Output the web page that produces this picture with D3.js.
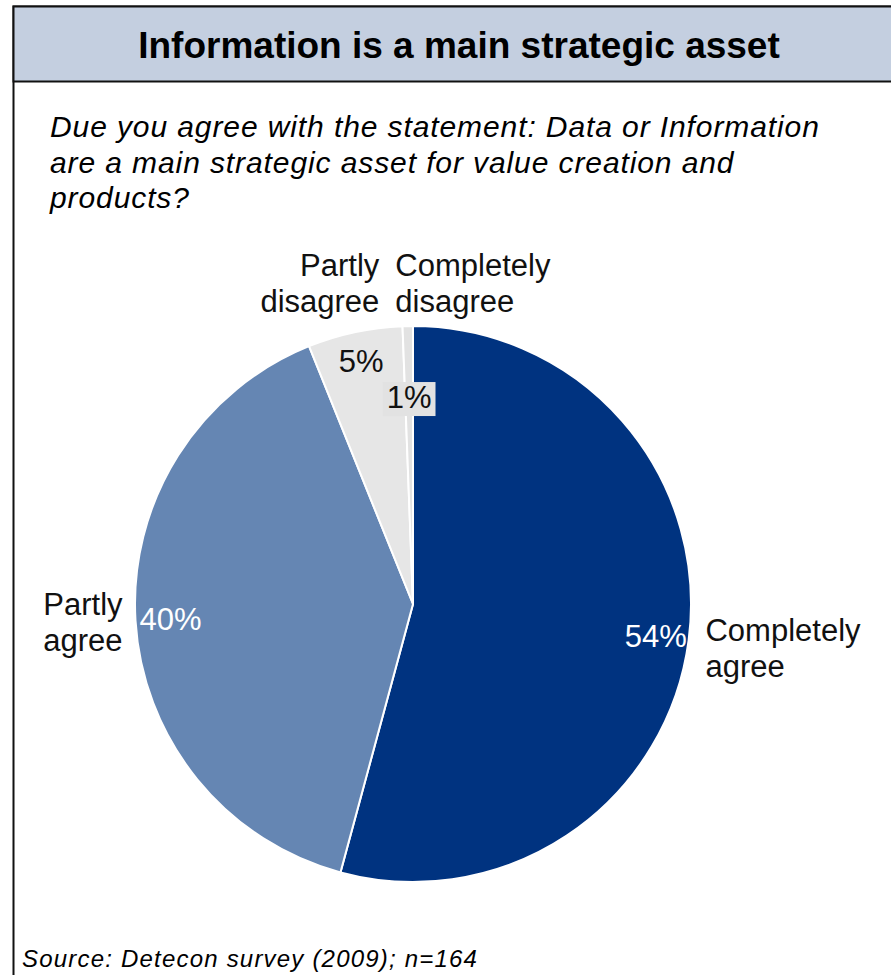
<!DOCTYPE html>
<html>
<head>
<meta charset="utf-8">
<script src="https://cdn.jsdelivr.net/npm/d3@7"></script>
<style>
  body { margin: 0; background: #fff; }
  text { font-family: "Liberation Sans", Arial, Helvetica, sans-serif; }
</style>
</head>
<body>
<div id="chart"></div>
<script>
var categories = ["Completely agree", "Partly agree", "Partly disagree", "Completely disagree"];
var shares = [54.2, 39.7, 5.5, 0.6];
var pctLabels = ["54%", "40%", "5%", "1%"];
var sliceColors = ["#003380", "#6586b3", "#e6e6e6", "#e2e2e2"];
var pctColors = ["#fff", "#fff", "#111", "#111"];

var titleText = "Information is a main strategic asset";
var questionLines = ["Due you agree with the statement: Data or Information",
                     "are a main strategic asset for value creation and",
                     "products?"];
var sourceText = "Source: Detecon survey (2009); n=164";

var width = 891, height = 975;
var cx = 413, cy = 604, radius = 278;

// label placement per slice (layout only)
var pctLayout = [{r: 245}, {r: 243}, {r: 248}, {r: 207, box: true}];
var catLayout = [
    {r: 292, anchor: "start", dx: 3, dy: -1},
    {r: 292, anchor: "end", dx: 1, dy: -6},
    {r: 300, anchor: "end", dx: 29, dy: -35},
    {r: 300, anchor: "start", dx: -12, dy: -28}
];

var svg = d3.select("#chart")
    .append("svg")
        .attr("width", width)
        .attr("height", height);

// frame + header
svg.append("rect")
    .attr("x", 13.5).attr("y", 6.5)
    .attr("width", width + 10).attr("height", height + 10)
    .attr("fill", "#fff")
    .attr("stroke", "#111")
    .attr("stroke-width", 2);

svg.append("rect")
    .attr("x", 13.5).attr("y", 6.5)
    .attr("width", width + 10).attr("height", 75)
    .attr("fill", "#c4cfe0")
    .attr("stroke", "#111")
    .attr("stroke-width", 2);

svg.append("text")
    .attr("x", 459)
    .attr("y", 58)
    .attr("text-anchor", "middle")
    .style("font-size", "37px")
    .style("font-weight", "bold")
    .text(titleText);

svg.append("g")
    .selectAll("text")
    .data(questionLines)
    .enter()
    .append("text")
        .attr("x", 50)
        .attr("y", function(d, i) { return 137 + i * 35.5; })
        .style("font-size", "30px")
        .style("font-style", "italic")
        .style("letter-spacing", "0.9px")
        .text(function(d) { return d; });

svg.append("text")
    .attr("x", 22)
    .attr("y", 967)
    .style("font-size", "24px")
    .style("font-style", "italic")
    .style("letter-spacing", "1.2px")
    .text(sourceText);

// pie
var pie = d3.pie().sort(null).value(function(d) { return d; });
var arcs = pie(shares);

var arc = d3.arc().innerRadius(0).outerRadius(radius);

var pieG = svg.append("g")
    .attr("transform", "translate(" + cx + "," + cy + ")");

pieG.selectAll(".slice")
    .data(arcs)
    .enter()
    .append("path")
        .attr("class", "slice")
        .attr("fill", function(d, i) { return sliceColors[i]; })
        .attr("stroke", "#fff")
        .attr("stroke-width", 2)
        .attr("d", arc);

function pointAt(d, r) {
    var a = (d.startAngle + d.endAngle) / 2;
    return [r * Math.sin(a), -r * Math.cos(a)];
}

// percentage labels
arcs.forEach(function(d, i) {
    var p = pointAt(d, pctLayout[i].r);
    var t = pieG.append("text")
        .attr("x", p[0])
        .attr("y", p[1] + 11)
        .attr("text-anchor", "middle")
        .attr("fill", pctColors[i])
        .style("font-size", "31px")
        .text(pctLabels[i]);
    if (pctLayout[i].box) {
        var bb = t.node().getBBox();
        pieG.insert("rect", "text")
            .attr("x", bb.x - 4)
            .attr("y", bb.y + 2)
            .attr("width", bb.width + 8)
            .attr("height", bb.height - 1)
            .attr("fill", sliceColors[i]);
    }
});

// category labels
arcs.forEach(function(d, i) {
    var L = catLayout[i];
    var p = pointAt(d, L.r);
    var lines = categories[i].split(" ");
    pieG.append("g")
        .selectAll("text")
        .data(lines)
        .enter()
        .append("text")
            .attr("x", p[0] + L.dx)
            .attr("y", function(s, j) { return p[1] + L.dy + j * 36; })
            .attr("text-anchor", L.anchor)
            .attr("fill", "#111")
            .style("font-size", "31px")
            .text(function(s) { return s; });
});
</script>
</body>
</html>
